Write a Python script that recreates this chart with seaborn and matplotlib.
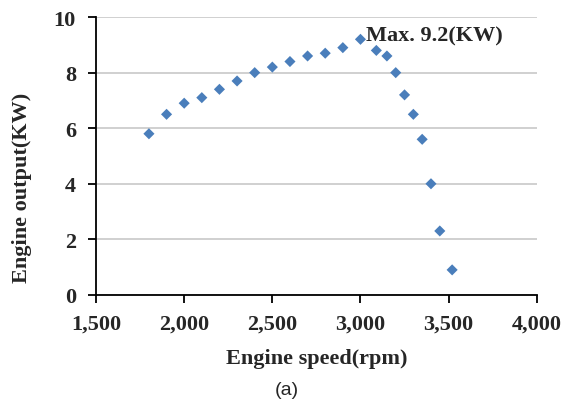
import matplotlib
matplotlib.use("Agg")
import matplotlib.pyplot as plt
import seaborn as sns
import pandas as pd

# Engine output vs engine speed
speed = [1800, 1900, 2000, 2100, 2200, 2300, 2400, 2500, 2600, 2700, 2800,
         2900, 3000, 3090, 3150, 3200, 3250, 3300, 3350, 3400, 3450, 3520]
output = [5.8, 6.5, 6.9, 7.1, 7.4, 7.7, 8.0, 8.2, 8.4, 8.6, 8.7,
          8.9, 9.2, 8.8, 8.6, 8.0, 7.2, 6.5, 5.6, 4.0, 2.3, 0.9]
x_ticks = [1500, 2000, 2500, 3000, 3500, 4000]
y_ticks = [0, 2, 4, 6, 8, 10]

df = pd.DataFrame({"speed": speed, "output": output})

sns.set_style("white")
plt.rcParams["font.family"] = ["Liberation Serif", "DejaVu Serif"]

fig = plt.figure(figsize=(5.65, 4.02), dpi=100)
ax = fig.add_axes([0.17, 0.264, 0.78, 0.691])

sns.scatterplot(data=df, x="speed", y="output", marker="D", s=32,
                color="#4a7ebb", edgecolor="none", ax=ax, zorder=3)

ax.set_xlim(1500, 4000)
ax.set_ylim(0, 10)
ax.set_xticks(x_ticks)
ax.set_xticklabels([f"{t:,}" for t in x_ticks])
ax.set_yticks(y_ticks)
ax.yaxis.grid(True, color="#c8c8c8", linewidth=1.2)
ax.xaxis.grid(False)
ax.set_axisbelow(True)

for s in ["top", "right"]:
    ax.spines[s].set_visible(False)
for s in ["left", "bottom"]:
    ax.spines[s].set_color("black")
    ax.spines[s].set_linewidth(1.3)

ax.tick_params(axis="both", direction="out", length=5.5, width=1.3,
               color="black", labelsize=16, bottom=True, left=True)
ax.tick_params(axis="x", pad=8)
ax.tick_params(axis="y", pad=9)
for lbl in ax.get_xticklabels() + ax.get_yticklabels():
    lbl.set_fontweight("bold")

ax.set_xlabel("Engine speed(rpm)", fontsize=16, fontweight="bold")
ax.set_ylabel("Engine output(KW)", fontsize=16, fontweight="bold")
ax.xaxis.set_label_coords(0.5, -0.19)
ax.yaxis.set_label_coords(-0.145, 0.39)

ax.text(3030, 9.32, "Max. 9.2(KW)", fontsize=16, fontweight="bold",
        va="center", ha="left")

fig.text(0.508, 0.028, "(a)", fontsize=14, family="Liberation Sans",
         ha="center", va="center")

fig.savefig("out.png", dpi=100)
